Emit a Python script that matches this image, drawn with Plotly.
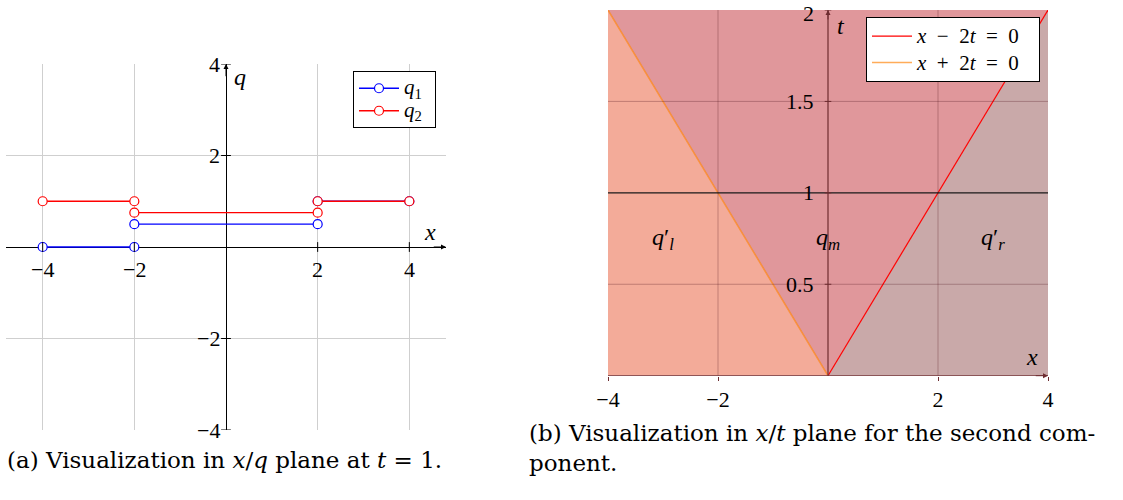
import plotly.graph_objects as go

# ---- left panel: piecewise-constant states at t = 1 ----
x_edges = [-4, -2, 2, 4]
q1_vals = [0, 0.5, 1]
q2_vals = [1, 0.75, 1]
left_xticks = [-4, -2, 2, 4]
left_yticks = [-4, -2, 2, 4]

# ---- right panel: characteristic lines in the x/t plane ----
t_line = [0, 2]
right_xticks = [-4, -2, 2, 4]
right_yticks = [0.5, 1, 1.5, 2]
region_labels = ["<i>q</i>′<sub><i>l</i></sub>", "<i>q<sub>m</sub></i>", "<i>q</i>′<sub><i>r</i></sub>"]
region_x = [-3, 0, 3]
region_t = [0.75, 0.75, 0.75]

FONT = "Liberation Serif"
CAPFONT = "DejaVu Serif"
W, H = 1123, 500
NB = "\u00a0"


def minus(v):
    s = f"{v:g}"
    return s.replace("-", "−")


def big(text, px):
    # legend rows are spaced by the legend font; the entry text itself is drawn larger
    return f'<span style="font-size:{px}px">{text}</span>'


def segments(edges, vals):
    xs, ys = [], []
    for i, v in enumerate(vals):
        xs += [edges[i], edges[i + 1], None]
        ys += [v, v, None]
    return xs, ys


fig = go.Figure()

# left panel traces
for name, vals, col in [("<i>q</i><sub>1</sub>", q1_vals, "#0000FF"),
                        ("<i>q</i><sub>2</sub>", q2_vals, "#FF0000")]:
    xs, ys = segments(x_edges, vals)
    fig.add_trace(go.Scatter(
        x=xs, y=ys, mode="lines+markers", name=big(name, 21) + NB * 2,
        line=dict(color=col, width=1.3),
        marker=dict(symbol="circle", size=9, color="white",
                    line=dict(color=col, width=1.2)),
        xaxis="x", yaxis="y", legend="legend",
    ))

# small tick marks on the centred axes
fig.add_trace(go.Scatter(x=[0] * len(left_yticks), y=left_yticks, mode="markers",
                         marker=dict(symbol="line-ew", size=7, line=dict(color="black", width=1)),
                         showlegend=False, hoverinfo="skip", xaxis="x", yaxis="y"))
fig.add_trace(go.Scatter(x=left_xticks, y=[0] * len(left_xticks), mode="markers",
                         marker=dict(symbol="line-ns", size=7, line=dict(color="black", width=1)),
                         showlegend=False, hoverinfo="skip", xaxis="x", yaxis="y"))

# right panel: filled regions bounded by x = -2t and x = 2t
x_minus = [-2 * t for t in t_line]
x_plus = [2 * t for t in t_line]
regions = [
    ([x_minus[0], x_minus[1], -4, -4], [t_line[0], t_line[1], t_line[1], t_line[0]], "#F3AB99"),
    ([x_minus[0], x_minus[1], x_plus[1]], [t_line[0], t_line[1], t_line[1]], "#E0979B"),
    ([x_plus[0], x_plus[1], 4, 4], [t_line[0], t_line[1], t_line[1], t_line[0]], "#C9A9A9"),
]
for xs, ts, col in regions:
    fig.add_trace(go.Scatter(x=xs + [xs[0]], y=ts + [ts[0]], fill="toself", fillcolor=col,
                             mode="none", showlegend=False, hoverinfo="skip",
                             xaxis="x2", yaxis="y2"))

fig.add_trace(go.Scatter(x=x_plus, y=t_line, mode="lines",
                         name=big(f"<i>x</i>{NB}{NB}−{NB}{NB}2<i>t</i>{NB}{NB}={NB}{NB}0", 21) + NB * 3,
                         line=dict(color="#FF0000", width=1.2), xaxis="x2", yaxis="y2",
                         legend="legend2"))
fig.add_trace(go.Scatter(x=x_minus, y=t_line, mode="lines",
                         name=big(f"<i>x</i>{NB}{NB}+{NB}{NB}2<i>t</i>{NB}{NB}={NB}{NB}0", 21) + NB * 3,
                         line=dict(color="rgba(255,128,0,0.65)", width=1.5), xaxis="x2", yaxis="y2",
                         legend="legend2"))

shapes = []
# grid over the filled regions
for xv in [-2, 2]:
    shapes.append(dict(type="line", xref="x2", yref="y2", x0=xv, x1=xv, y0=0, y1=2,
                       line=dict(color="rgba(80,20,30,0.3)", width=1)))
for tv in [0.5, 1.5]:
    shapes.append(dict(type="line", xref="x2", yref="y2", x0=-4, x1=4, y0=tv, y1=tv,
                       line=dict(color="rgba(80,20,30,0.3)", width=1)))
# t = 1 line
shapes.append(dict(type="line", xref="x2", yref="y2", x0=-4, x1=4, y0=1, y1=1,
                   line=dict(color="#1a1a1a", width=1.3)))
# axes of the right panel
shapes.append(dict(type="line", xref="x2", yref="y2", x0=0, x1=0, y0=0, y1=2,
                   line=dict(color="#6E2C30", width=1.2)))
shapes.append(dict(type="line", xref="x2", yref="y2", x0=-4, x1=4, y0=0, y1=0,
                   line=dict(color="#6E2C30", width=1.2)))
for tv in right_yticks:
    shapes.append(dict(type="line", xref="x2", yref="y2", x0=-0.06, x1=0.06, y0=tv, y1=tv,
                       line=dict(color="#6E2C30", width=1)))

ann = []
TICKF = dict(family=FONT, size=22, color="black")
LBLF = dict(family=FONT, size=24, color="black")
# left panel tick labels
for xv in left_xticks:
    ann.append(dict(x=xv, y=0, xref="x", yref="y", text=minus(xv), showarrow=False,
                    font=TICKF, yanchor="top", yshift=-8))
for yv in left_yticks:
    ann.append(dict(x=0, y=yv, xref="x", yref="y", text=minus(yv), showarrow=False,
                    font=TICKF, xanchor="right", xshift=-4))
# left panel axis labels and arrows
ann.append(dict(x=4.45, y=0.33, xref="x", yref="y", text="<i>x</i>", showarrow=False,
                font=LBLF, yanchor="middle"))
ann.append(dict(x=0.3, y=3.72, xref="x", yref="y", text="<i>q</i>", showarrow=False,
                font=LBLF))
ann.append(dict(x=4.8, y=0, ax=4.5, ay=0, xref="x", yref="y", axref="x", ayref="y",
                text="", showarrow=True, arrowhead=2, arrowsize=1, arrowwidth=1, arrowcolor="black"))
ann.append(dict(x=0, y=4, ax=0, ay=3.7, xref="x", yref="y", axref="x", ayref="y",
                text="", showarrow=True, arrowhead=2, arrowsize=1, arrowwidth=1, arrowcolor="black"))

# right panel tick labels on the t axis (top one nudged inside the page)
for tv in right_yticks:
    ann.append(dict(x=0, y=tv, xref="x2", yref="y2", text=f"{tv:g}", showarrow=False,
                    font=TICKF, xanchor="right", xshift=-12,
                    yshift=-3 if tv == max(right_yticks) else 0))
ann.append(dict(x=0.24, y=1.91, xref="x2", yref="y2", text="<i>t</i>", showarrow=False,
                font=LBLF))
ann.append(dict(x=3.71, y=0.10, xref="x2", yref="y2", text="<i>x</i>", showarrow=False,
                font=LBLF))
ann.append(dict(x=4, y=0, ax=3.75, ay=0, xref="x2", yref="y2", axref="x2", ayref="y2",
                text="", showarrow=True, arrowhead=2, arrowsize=1, arrowwidth=1, arrowcolor="#6E2C30"))
ann.append(dict(x=0, y=2, ax=0, ay=1.94, xref="x2", yref="y2", axref="x2", ayref="y2",
                text="", showarrow=True, arrowhead=2, arrowsize=1, arrowwidth=1, arrowcolor="#6E2C30"))
for lbl, xv, tv in zip(region_labels, region_x, region_t):
    ann.append(dict(x=xv, y=tv, xref="x2", yref="y2", text=lbl, showarrow=False, font=LBLF))

# captions
CAPF = dict(family=CAPFONT, size=23, color="black")
ann.append(dict(x=5 / W, y=1 - 475 / H, xref="paper", yref="paper", xanchor="left",
                text="(a) Visualization in <i>x</i>/<i>q</i> plane at <i>t</i> = 1.",
                showarrow=False, font=CAPF))
ann.append(dict(x=527 / W, y=1 - 448 / H, xref="paper", yref="paper", xanchor="left",
                text="(b) Visualization in <i>x</i>/<i>t</i> plane for the second com-",
                showarrow=False, font=CAPF))
ann.append(dict(x=527 / W, y=1 - 478 / H, xref="paper", yref="paper", xanchor="left",
                text="ponent.", showarrow=False, font=CAPF))

grid_col = "#CFCFCF"
fig.update_layout(
    width=W, height=H, margin=dict(l=0, r=0, t=0, b=0),
    paper_bgcolor="white", plot_bgcolor="white",
    font=dict(family=FONT, color="black"),
    xaxis=dict(domain=[6 / W, 446 / W], range=[-4.8, 4.8], tickvals=[-4, -2, 0, 2, 4],
               showticklabels=False, showgrid=True, gridcolor=grid_col, gridwidth=1,
               zeroline=True, zerolinecolor="black", zerolinewidth=1.2, showline=False,
               automargin=False, fixedrange=True, anchor="y"),
    yaxis=dict(domain=[1 - 430 / H, 1 - 64 / H], range=[-4, 4], tickvals=[-4, -2, 0, 2, 4],
               showticklabels=False, showgrid=True, gridcolor=grid_col, gridwidth=1,
               zeroline=True, zerolinecolor="black", zerolinewidth=1.2, showline=False,
               automargin=False, fixedrange=True, anchor="x"),
    xaxis2=dict(domain=[608 / W, 1048 / W], range=[-4, 4], tickvals=right_xticks,
                ticktext=[minus(v) for v in right_xticks], ticks="outside", ticklen=4,
                tickcolor="#6E2C30", tickfont=TICKF, showgrid=False, zeroline=False,
                showline=False, automargin=False, fixedrange=True, anchor="y2"),
    yaxis2=dict(domain=[1 - 375.7 / H, 1 - 10 / H], range=[0, 2], showticklabels=False,
                showgrid=False, zeroline=False, showline=False, automargin=False,
                fixedrange=True, anchor="x2"),
    legend=dict(x=353 / W, y=1 - 71 / H, xanchor="left", yanchor="top",
                bgcolor="white", bordercolor="black", borderwidth=1, itemwidth=40,
                font=dict(family=FONT, size=15), tracegroupgap=0),
    legend2=dict(x=866 / W, y=1 - 17 / H, xanchor="left", yanchor="top",
                 bgcolor="white", bordercolor="black", borderwidth=1, itemwidth=40,
                 font=dict(family=FONT, size=18), tracegroupgap=0),
    shapes=shapes, annotations=ann,
)

fig.write_html("out.html")
